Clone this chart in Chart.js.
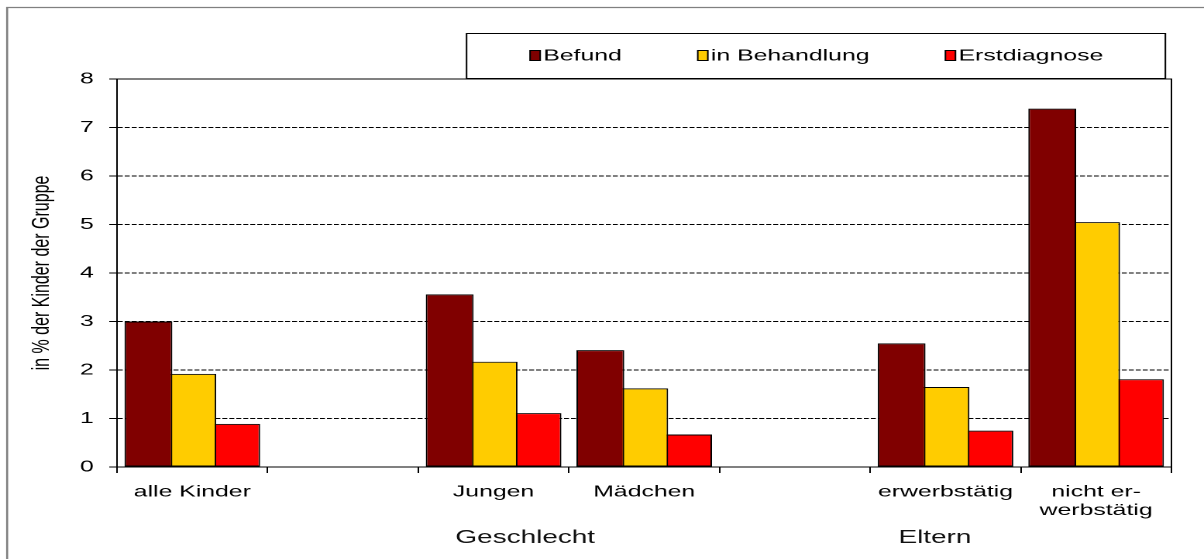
<!DOCTYPE html>
<html>
<head>
<meta charset="utf-8">
<script src="https://cdn.jsdelivr.net/npm/chart.js@4"></script>
<style>
  html, body { margin: 0; padding: 0; background: #fff; overflow: hidden; }
  /* the original picture is horizontally stretched, so draw narrow and stretch */
  #chart { position: absolute; left: 0; top: 0; width: 777px; height: 559px;
           transform: scaleX(1.5495); transform-origin: 0 0; }
</style>
</head>
<body>
<canvas id="chart" width="777" height="559"></canvas>
<script>
// categories (empty slots are gaps between the groups)
const categories = ['alle Kinder', '', 'Jungen', 'Mädchen', '', 'erwerbstätig', ['nicht er-', 'werbstätig']];
const seriesNames = ['Befund', 'in Behandlung', 'Erstdiagnose'];
const befund      = [3.0,  null, 3.56, 2.41, null, 2.55, 7.39];
const behandlung  = [1.92, null, 2.17, 1.62, null, 1.65, 5.05];
const erstdiag    = [0.89, null, 1.11, 0.67, null, 0.75, 1.81];
const yTicks      = [0, 1, 2, 3, 4, 5, 6, 7, 8];
const yTitle      = 'in % der Kinder der Gruppe';
const groupNames  = ['Geschlecht', 'Eltern'];
const groupAt     = [2.21, 4.93];   // in category units

const colors = ['#800000', '#FFCC00', '#FF0000'];
const FONT = '"Liberation Sans", Arial, sans-serif';

const decor = {
  id: 'decor',
  beforeDraw(chart) {
    const ctx = chart.ctx;
    ctx.save();
    ctx.strokeStyle = '#808080';
    ctx.lineWidth = 1.3;
    ctx.beginPath();
    ctx.moveTo(4.6, chart.height);
    ctx.lineTo(4.6, 7.5);
    ctx.lineTo(chart.width, 7.5);
    ctx.stroke();
    ctx.restore();
  },
  afterDraw(chart) {
    const { ctx, chartArea: a, scales: { x } } = chart;
    ctx.save();
    // plot frame, top and right
    ctx.strokeStyle = '#000';
    ctx.lineWidth = 1;
    ctx.beginPath();
    ctx.moveTo(a.left, a.top);
    ctx.lineTo(a.right, a.top);
    ctx.lineTo(a.right, a.bottom);
    ctx.stroke();

    // group labels
    ctx.fillStyle = '#111';
    ctx.font = '18px ' + FONT;
    ctx.textAlign = 'center';
    ctx.textBaseline = 'middle';
    groupNames.forEach((g, i) => ctx.fillText(g, x.getPixelForValue(groupAt[i]), a.bottom + 71));

    // legend box
    const box = { x: 300.6, y: 33, w: 451, h: 45 };
    ctx.fillStyle = '#fff';
    ctx.fillRect(box.x, box.y, box.w, box.h);
    ctx.strokeStyle = '#000';
    ctx.strokeRect(box.x + 0.5, box.y + 0.5, box.w, box.h);
    ctx.font = '16px ' + FONT;
    ctx.textAlign = 'left';
    let lx = box.x + 41.5;
    const cy = box.y + box.h / 2;
    chart.data.datasets.forEach(ds => {
      ctx.fillStyle = ds.backgroundColor;
      ctx.fillRect(lx, cy - 5, 6.5, 10);
      ctx.strokeRect(lx, cy - 5, 6.5, 10);
      ctx.fillStyle = '#000';
      ctx.fillText(ds.label, lx + 8.5, cy + 0.5);
      lx += 8.5 + ctx.measureText(ds.label).width + 49;
    });
    ctx.restore();
  }
};

const datasets = [befund, behandlung, erstdiag].map((d, i) => ({
  label: seriesNames[i],
  data: d,
  backgroundColor: colors[i],
  borderColor: '#000',
  borderWidth: 1,
  borderSkipped: false,
  categoryPercentage: 0.874,
  barPercentage: 1.09
}));

new Chart(document.getElementById('chart'), {
  type: 'bar',
  data: { labels: categories, datasets: datasets },
  options: {
    responsive: false,
    animation: false,
    devicePixelRatio: 2,
    layout: { padding: { top: 79, right: 21, left: 0, bottom: 0 } },
    plugins: { legend: { display: false }, tooltip: { enabled: false } },
    scales: {
      x: {
        type: 'category',
        afterFit(s) { s.height = 92; },
        grid: { display: true, drawOnChartArea: false, drawTicks: true, tickLength: 6,
                color: '#000', offset: true },
        border: { display: true, color: '#000', width: 1 },
        ticks: { color: '#000', font: { family: FONT, size: 16, lineHeight: 1.15 },
                 padding: 10, maxRotation: 0, autoSkip: false }
      },
      y: {
        min: 0,
        max: 8,
        afterFit(s) { s.width = 75.5; },
        afterBuildTicks(s) { s.ticks = yTicks.map(v => ({ value: v })); },
        grid: { color: '#000', lineWidth: 1, tickLength: 5, tickBorderDash: [] },
        border: { display: true, color: '#000', width: 1, dash: [3.2, 1.3] },
        ticks: { color: '#000', font: { family: FONT, size: 16 }, padding: 10 },
        title: { display: true, text: yTitle, color: '#000',
                 font: { family: FONT, size: 16 }, padding: { top: 17.4, bottom: 0 } }
      }
    }
  },
  plugins: [decor]
});
</script>
</body>
</html>
